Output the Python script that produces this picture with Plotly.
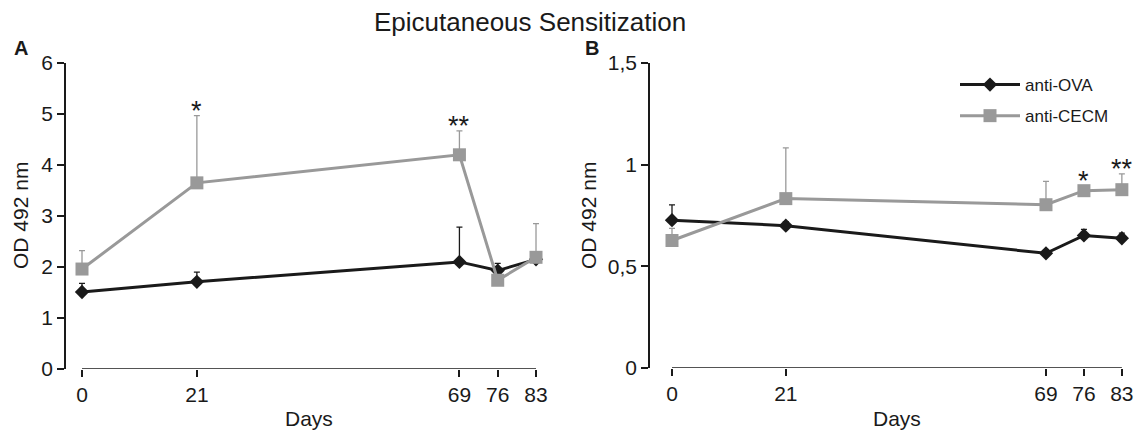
import plotly.graph_objects as go

# ---------------- data ----------------
days = [0, 21, 69, 76, 83]
day_labels = ["0", "21", "69", "76", "83"]

# Panel A (OD 492 nm)
a_ova = [1.51, 1.71, 2.10, 1.93, 2.15]
a_ova_err = [0.17, 0.19, 0.68, 0.14, 0.08]
a_cecm = [1.96, 3.65, 4.20, 1.74, 2.19]
a_cecm_err = [0.36, 1.32, 0.47, 0.08, 0.66]
a_stars = {21: "*", 69: "**"}

# Panel B (OD 492 nm)
b_ova = [0.727, 0.700, 0.564, 0.652, 0.638]
b_ova_err = [0.075, 0.02, 0.01, 0.03, 0.025]
b_cecm = [0.627, 0.833, 0.803, 0.872, 0.877]
b_cecm_err = [0.06, 0.25, 0.115, 0.025, 0.078]
b_stars = {76: "*", 83: "**"}

a_yticks = [0, 1, 2, 3, 4, 5, 6]
a_yticktext = ["0", "1", "2", "3", "4", "5", "6"]
b_yticks = [0, 0.5, 1, 1.5]
b_yticktext = ["0", "0,5", "1", "1,5"]

series_names = ["anti-OVA", "anti-CECM"]

# ---------------- style ----------------
W, H = 1142, 432
OFF = 8  # page body margin in the browser
BLACK = "#1a1a1a"
GREY = "#999999"
FONT = "Liberation Sans, Arial, sans-serif"


def px_x(p):
    return (p - OFF) / W


def px_y(p):
    return 1 - (p - OFF) / H


fig = go.Figure()


def add_panel(xa, ya, ova, ova_err, cecm, cecm_err, showlegend):
    fig.add_trace(go.Scatter(
        x=days, y=ova, mode="lines+markers", name=series_names[0],
        legendgroup="ova",
        xaxis=xa, yaxis=ya, showlegend=showlegend, cliponaxis=False,
        line=dict(color=BLACK, width=3),
        marker=dict(symbol="diamond", size=11, color=BLACK),
        error_y=dict(type="data", symmetric=False, array=ova_err,
                     arrayminus=[0] * len(ova_err), color=BLACK,
                     thickness=1.3, width=3),
    ))
    fig.add_trace(go.Scatter(
        x=days, y=cecm, mode="lines+markers", name=series_names[1],
        legendgroup="cecm",
        xaxis=xa, yaxis=ya, showlegend=showlegend, cliponaxis=False,
        line=dict(color=GREY, width=3),
        marker=dict(symbol="square", size=13, color=GREY),
        error_y=dict(type="data", symmetric=False, array=cecm_err,
                     arrayminus=[0] * len(cecm_err), color=GREY,
                     thickness=1.3, width=3),
    ))


add_panel("x", "y", a_ova, a_ova_err, a_cecm, a_cecm_err, False)
add_panel("x2", "y2", b_ova, b_ova_err, b_cecm, b_cecm_err, True)

# axis geometry (pixels in the page)
A_yaxis_px, A_x0_px, A_scale = 66, 82, 5.47
B_yaxis_px, B_x0_px, B_scale = 650, 672, 5.42
A_right_px = A_x0_px + 83 * A_scale + 4
B_right_px = B_x0_px + 83 * B_scale + 4

xcommon = dict(
    tickmode="array", tickvals=days, ticktext=day_labels,
    showline=False, zeroline=False, showgrid=False, automargin=False,
    ticks="outside", ticklen=7, tickwidth=1.5, tickcolor=BLACK,
    tickfont=dict(family=FONT, size=21, color=BLACK),
)
ycommon = dict(
    showline=True, linecolor=BLACK, linewidth=1.5, zeroline=False,
    showgrid=False, ticks="outside", ticklen=7, tickwidth=1.5,
    automargin=False,
    tickcolor=BLACK, tickfont=dict(family=FONT, size=21, color=BLACK),
)

fig.update_layout(
    template="none",
    width=W, height=H, margin=dict(l=0, r=0, t=0, b=0, pad=0),
    autosize=False,
    paper_bgcolor="white", plot_bgcolor="white",
    font=dict(family=FONT, color=BLACK),
    xaxis=dict(domain=[px_x(A_yaxis_px), px_x(A_right_px)],
               range=[(A_yaxis_px - A_x0_px) / A_scale, 83 + 4 / A_scale],
               anchor="y", **xcommon),
    yaxis=dict(domain=[px_y(369), px_y(63)], range=[0, 6],
               tickvals=a_yticks, ticktext=a_yticktext, anchor="x",
               **ycommon),
    xaxis2=dict(domain=[px_x(B_yaxis_px), px_x(B_right_px)],
                range=[(B_yaxis_px - B_x0_px) / B_scale, 83 + 4 / B_scale],
                anchor="y2", **xcommon),
    yaxis2=dict(domain=[px_y(368), px_y(63)], range=[0, 1.5],
                tickvals=b_yticks, ticktext=b_yticktext, anchor="x2",
                **ycommon),
    legend=dict(x=px_x(955), y=px_y(67), xanchor="left", yanchor="top",
                font=dict(family=FONT, size=17, color=BLACK),
                itemwidth=60, bgcolor="rgba(0,0,0,0)", borderwidth=0,
                traceorder="grouped", tracegroupgap=6),
    showlegend=True,
)

# x-axis lines from day 0 to day 83 (offset from the y axis, as in the figure)
for xr, yr in (("x", "y"), ("x2", "y2")):
    fig.add_shape(type="line", xref=xr, yref=yr, x0=days[0], x1=days[-1],
                  y0=0, y1=0, line=dict(color=BLACK, width=1.5))


def ann(text, xc, yc, size, angle=0):
    return dict(text=text, x=px_x(xc), y=px_y(yc), xref="paper", yref="paper",
                xanchor="center", yanchor="middle", showarrow=False,
                textangle=angle, font=dict(family=FONT, size=size, color=BLACK))


annotations = [
    ann("Epicutaneous Sensitization", 530, 22, 26),
    ann("<b>A</b>", 21, 48, 20),
    ann("<b>B</b>", 592, 48, 20),
    ann("OD 492 nm", 21, 216, 21, -90),
    ann("OD 492 nm", 589, 216, 21, -90),
    ann("Days", (2 * A_x0_px + 83 * A_scale) / 2, 418, 21),
    ann("Days", (2 * B_x0_px + 83 * B_scale) / 2, 418, 21),
]
# significance stars
for stars, vals, errs, xr, yr in ((a_stars, a_cecm, a_cecm_err, "x", "y"),
                                  (b_stars, b_cecm, b_cecm_err, "x2", "y2")):
    for d, s in stars.items():
        i = days.index(d)
        annotations.append(dict(text=s, x=d, y=vals[i] + errs[i], xref=xr,
                                yref=yr, showarrow=False, xanchor="center",
                                yanchor="bottom", yshift=-12,
                                font=dict(family=FONT, size=27, color=BLACK)))

fig.update_layout(annotations=annotations)
fig.write_html("out.html")
